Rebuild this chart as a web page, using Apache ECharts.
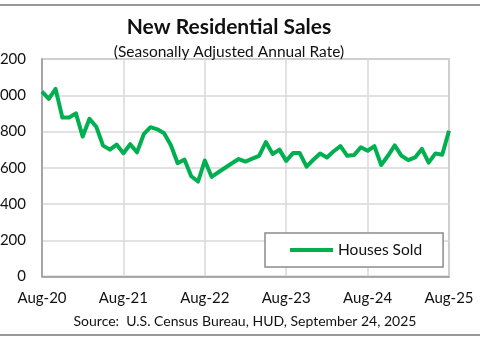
<!DOCTYPE html>
<html>
<head>
<meta charset="utf-8">
<script src="https://cdn.jsdelivr.net/npm/echarts@6/dist/echarts.min.js"></script>
<style>
html,body{margin:0;padding:0;background:#fff;}
#chart{width:480px;height:360px;}
</style>
</head>
<body>
<div id="chart"></div>
<script>
var months = [
  "Aug-20","Sep-20","Oct-20","Nov-20","Dec-20","Jan-21","Feb-21","Mar-21","Apr-21","May-21","Jun-21","Jul-21",
  "Aug-21","Sep-21","Oct-21","Nov-21","Dec-21","Jan-22","Feb-22","Mar-22","Apr-22","May-22","Jun-22","Jul-22",
  "Aug-22","Sep-22","Oct-22","Nov-22","Dec-22","Jan-23","Feb-23","Mar-23","Apr-23","May-23","Jun-23","Jul-23",
  "Aug-23","Sep-23","Oct-23","Nov-23","Dec-23","Jan-24","Feb-24","Mar-24","Apr-24","May-24","Jun-24","Jul-24",
  "Aug-24","Sep-24","Oct-24","Nov-24","Dec-24","Jan-25","Feb-25","Mar-25","Apr-25","May-25","Jun-25","Jul-25",
  "Aug-25"
];
var housesSold = [
  1020, 980, 1035, 877, 877, 900, 772, 870, 826, 722, 700, 728,
  680, 730, 685, 785, 824, 812, 790, 724, 625, 645, 553, 524,
  640, 550, 575, 600, 625, 648, 634, 650, 666, 742, 676, 700,
  638, 681, 681, 606, 644, 679, 657, 691, 719, 666, 670, 713,
  694, 719, 615, 666, 723, 666, 642, 657, 704, 628, 679, 672,
  804
];
var yTicks = [0, 200, 400, 600, 800, 1000, 1200];
var titleText = "New Residential Sales";
var subtitleText = "(Seasonally Adjusted Annual Rate)";
var sourceText = "Source:  U.S. Census Bureau, HUD, September 24, 2025";
var seriesName = "Houses Sold";

var FONT = "Lato";
var chart = echarts.init(document.getElementById('chart'));
chart.setOption({
  animation: false,
  backgroundColor: '#ffffff',
  title: [
    {text: titleText, left: 224, top: 12, textAlign: 'center',
     textStyle: {fontFamily: FONT, fontWeight: 'bold', fontSize: 21, color: '#111'}},
    {text: subtitleText, left: 224, top: 39, textAlign: 'center',
     textStyle: {fontFamily: FONT, fontWeight: 'normal', fontSize: 15.5, color: '#111'}},
    {text: sourceText, left: 240, top: 309, textAlign: 'center',
     textStyle: {fontFamily: FONT, fontWeight: 'normal', fontSize: 14, color: '#111'}}
  ],
  legend: {
    data: [seriesName],
    left: 265, top: 233,
    orient: 'horizontal',
    icon: 'rect',
    itemWidth: 43, itemHeight: 4,
    padding: [9, 21, 9, 25],
    backgroundColor: '#fff',
    borderColor: '#8c8c8c', borderWidth: 1.5, borderRadius: 0,
    textStyle: {fontFamily: FONT, fontSize: 15.5, color: '#111'}
  },
  grid: {
    left: 42, right: 31, top: 59, bottom: 83.5,
    show: true, borderColor: '#999', borderWidth: 1.5,
    containLabel: false,
    outerBoundsMode: 'none'
  },
  xAxis: {
    type: 'category',
    data: months,
    boundaryGap: false,
    axisLine: {show: true, lineStyle: {color: '#999', width: 1.5}},
    axisTick: {show: false},
    axisLabel: {interval: 11, fontFamily: FONT, fontSize: 15, color: '#111', margin: 14,
                showMaxLabel: true},
    splitLine: {show: true, interval: 11, lineStyle: {color: '#d9d9d9', width: 1.5}}
  },
  yAxis: {
    type: 'value',
    min: yTicks[0], max: yTicks[yTicks.length - 1], interval: yTicks[1] - yTicks[0],
    axisLine: {show: true, lineStyle: {color: '#999', width: 1.5}},
    axisTick: {show: false},
    axisLabel: {fontFamily: FONT, fontSize: 15, color: '#111', margin: 16,
                formatter: function (v) { return v.toLocaleString('en-US'); }},
    splitLine: {show: true, lineStyle: {color: '#d9d9d9', width: 1.5}}
  },
  series: [{
    name: seriesName,
    type: 'line',
    data: housesSold,
    symbol: 'none',
    lineStyle: {color: '#00B050', width: 4, join: 'round'},
    itemStyle: {color: '#00B050'}
  }],
  graphic: [
    {type: 'line', shape: {x1: 0, y1: 5, x2: 480, y2: 5}, style: {stroke: '#999', lineWidth: 2}},
    {type: 'line', shape: {x1: 0, y1: 335, x2: 480, y2: 335}, style: {stroke: '#999', lineWidth: 2}}
  ]
});
</script>
</body>
</html>
